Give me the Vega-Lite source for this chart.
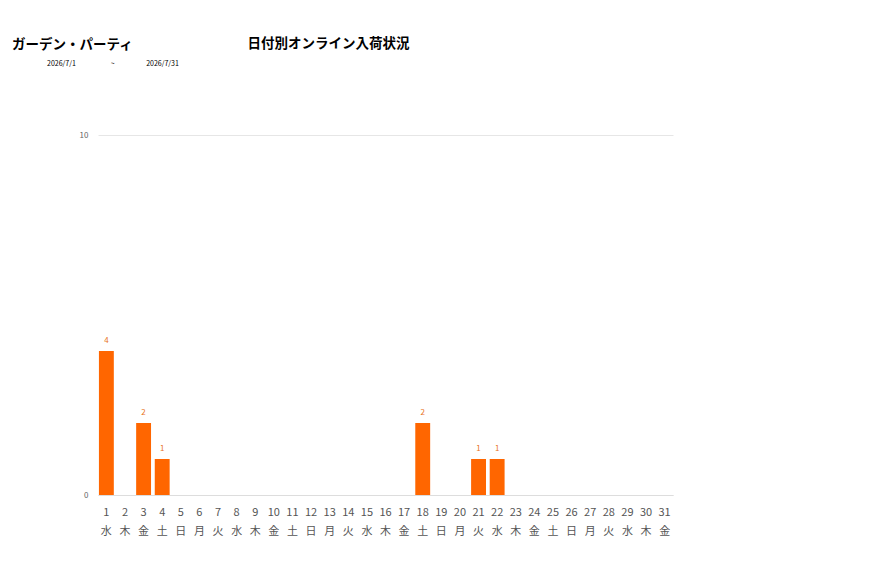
{
  "$schema": "https://vega.github.io/schema/vega-lite/v6.json",
  "width": 575,
  "height": 360,
  "autosize": "none",
  "padding": {"left": 98, "top": 135, "right": 204, "bottom": 83},
  "background": "white",
  "config": {"view": {"stroke": null}, "font": "Noto Sans CJK JP"},
  "title": {
    "text": "ガーデン・パーティ",
    "subtitle": "\u200b\u2003\u2003\u2003\u2003\u20032026/7/1\u2003\u2003\u2003\u2003\u2003~\u2003\u2003\u2003\u2003\u20002026/7/31",
    "anchor": "start",
    "frame": "group",
    "dx": -86,
    "offset": -31,
    "fontSize": 13.5,
    "fontWeight": "bold",
    "color": "#000000",
    "subtitleFontSize": 7,
    "subtitleColor": "#000000",
    "subtitlePadding": 9,
    "subtitleFont": "Noto Sans CJK JP",
    "font": "Noto Sans CJK JP"
  },
  "data": {
    "values": [
      {"d": "1|水", "v": 4}, {"d": "2|木", "v": 0}, {"d": "3|金", "v": 2}, {"d": "4|土", "v": 1},
      {"d": "5|日", "v": 0}, {"d": "6|月", "v": 0}, {"d": "7|火", "v": 0}, {"d": "8|水", "v": 0},
      {"d": "9|木", "v": 0}, {"d": "10|金", "v": 0}, {"d": "11|土", "v": 0}, {"d": "12|日", "v": 0},
      {"d": "13|月", "v": 0}, {"d": "14|火", "v": 0}, {"d": "15|水", "v": 0}, {"d": "16|木", "v": 0},
      {"d": "17|金", "v": 0}, {"d": "18|土", "v": 2}, {"d": "19|日", "v": 0}, {"d": "20|月", "v": 0},
      {"d": "21|火", "v": 1}, {"d": "22|水", "v": 1}, {"d": "23|木", "v": 0}, {"d": "24|金", "v": 0},
      {"d": "25|土", "v": 0}, {"d": "26|日", "v": 0}, {"d": "27|月", "v": 0}, {"d": "28|火", "v": 0},
      {"d": "29|水", "v": 0}, {"d": "30|木", "v": 0}, {"d": "31|金", "v": 0}
    ]
  },
  "encoding": {
    "x": {
      "field": "d",
      "type": "ordinal",
      "sort": null,
      "scale": {"paddingInner": 0.2, "paddingOuter": 0.05},
      "axis": {
        "title": "日付別オンライン入荷状況",
        "titleFontSize": 13.5,
        "titleFontWeight": "bold",
        "titleColor": "#000000",
        "titleX": 230,
        "titleY": -448,
        "titleBaseline": "alphabetic",
        "titleAlign": "center",
        "labelExpr": "split(datum.value, '|')",
        "labelAngle": 0,
        "labelFontSize": 11,
        "labelColor": "#555555",
        "labelLineHeight": 19,
        "labelPadding": 11,
        "ticks": false,
        "domain": true,
        "domainColor": "#dddddd",
        "labelBaseline": "top"
      }
    },
    "y": {
      "field": "v",
      "type": "quantitative",
      "scale": {"domain": [0, 10]},
      "axis": {
        "title": null,
        "values": [0, 10],
        "grid": true,
        "gridColor": "#e6e6e6",
        "domain": false,
        "ticks": false,
        "labelFontSize": 8,
        "labelColor": "#666666",
        "labelPadding": 10
      }
    }
  },
  "layer": [
    {"mark": {"type": "bar", "color": "#ff6600"}},
    {
      "transform": [{"filter": "datum.v > 0"}],
      "mark": {"type": "text", "color": "#e8741c", "fontSize": 8, "dy": -10},
      "encoding": {"text": {"field": "v", "type": "quantitative"}}
    }
  ]
}
